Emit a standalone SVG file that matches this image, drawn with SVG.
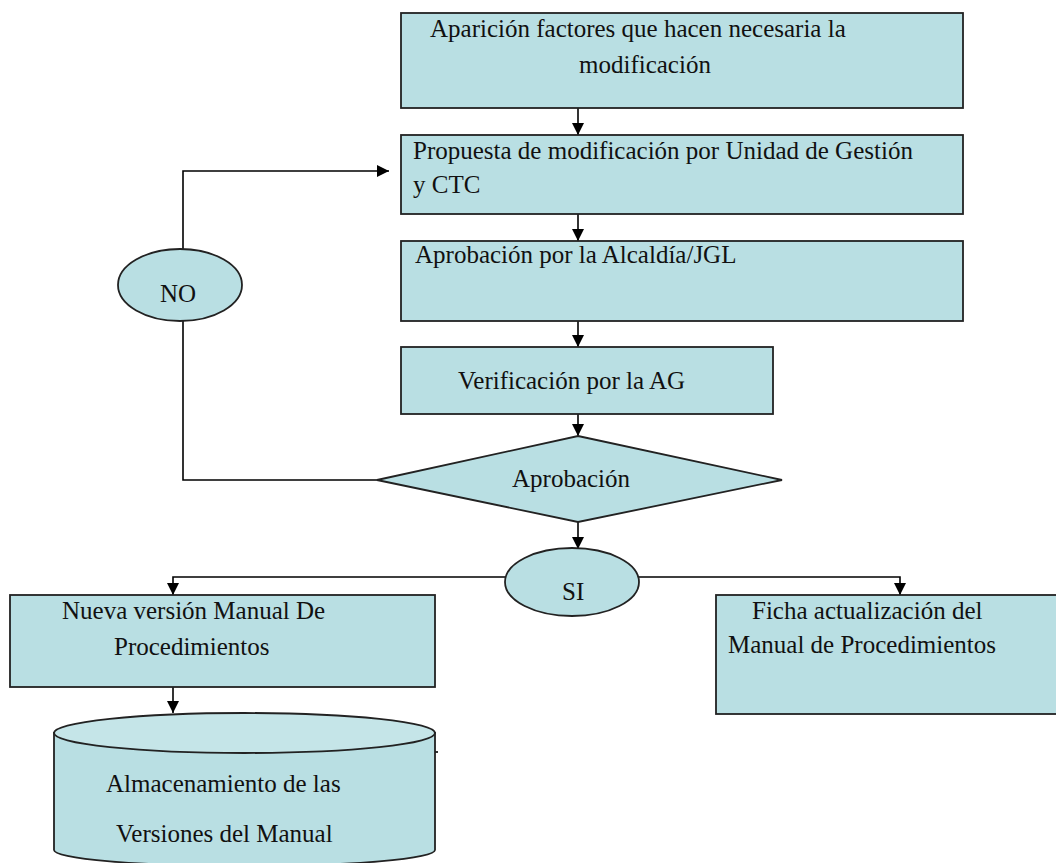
<svg xmlns="http://www.w3.org/2000/svg" width="1056" height="863" viewBox="0 0 1056 863">
  <defs>
    <marker id="arrow" viewBox="0 0 10 10" refX="10" refY="5" markerWidth="12" markerHeight="13" markerUnits="userSpaceOnUse" orient="auto">
      <path d="M0,0 L10,5 L0,10 Z" fill="#000"/>
    </marker>
    <style>
      .box { fill: #b9dfe3; stroke: #222; stroke-width: 1.8; }
      .lbl { font-family: "Liberation Serif", "Times New Roman", serif; font-size: 25px; fill: #111; }
      .wire { fill: none; stroke: #000; stroke-width: 1.6; }
    </style>
  </defs>
  <rect width="1056" height="863" fill="#fff"/>

  <!-- connectors -->
  <g id="connectors">
    <line class="wire" x1="578" y1="108" x2="578" y2="135" marker-end="url(#arrow)"/>
    <line class="wire" x1="578" y1="214" x2="578" y2="241" marker-end="url(#arrow)"/>
    <line class="wire" x1="578" y1="321" x2="578" y2="347" marker-end="url(#arrow)"/>
    <line class="wire" x1="578" y1="414" x2="578" y2="436" marker-end="url(#arrow)"/>
    <line class="wire" x1="578" y1="522" x2="578" y2="549" marker-end="url(#arrow)"/>
    <!-- rejection loop back to the proposal -->
    <polyline class="wire" points="378,480 183,480 183,321"/>
    <polyline class="wire" points="183,249 183,171 389,171" marker-end="url(#arrow)"/>
    <!-- approval branches -->
    <polyline class="wire" points="506,577 173,577 173,595" marker-end="url(#arrow)"/>
    <polyline class="wire" points="638,577 900,577 900,595" marker-end="url(#arrow)"/>
    <line class="wire" x1="173" y1="687" x2="173" y2="713" marker-end="url(#arrow)"/>
    <line class="wire" x1="435" y1="752" x2="438" y2="752" stroke-width="1"/>
  </g>

  <g id="n-aparicion">
    <rect class="box" x="401" y="13" width="562" height="95"/>
    <text class="lbl" x="430" y="37">Aparición factores que hacen necesaria la</text>
    <text class="lbl" x="579" y="73">modificación</text>
  </g>

  <g id="n-propuesta">
    <rect class="box" x="401" y="135" width="562" height="79"/>
    <text class="lbl" x="413" y="159">Propuesta de modificación por Unidad de Gestión</text>
    <text class="lbl" x="413" y="193">y CTC</text>
  </g>

  <g id="n-alcaldia">
    <rect class="box" x="401" y="241" width="562" height="80"/>
    <text class="lbl" x="415" y="263">Aprobación por la Alcaldía/JGL</text>
  </g>

  <g id="n-verificacion">
    <rect class="box" x="401" y="347" width="372" height="67"/>
    <text class="lbl" x="458" y="389">Verificación por la AG</text>
  </g>

  <g id="n-aprobacion">
    <polygon class="box" points="578,436 782,480 578,522 377,480"/>
    <text class="lbl" x="512" y="487">Aprobación</text>
  </g>

  <g id="n-no">
    <ellipse class="box" cx="180" cy="285" rx="62" ry="36"/>
    <text class="lbl" x="160" y="302">NO</text>
  </g>

  <g id="n-si">
    <ellipse class="box" cx="572" cy="582" rx="67" ry="34"/>
    <text class="lbl" x="562" y="600">SI</text>
  </g>

  <g id="n-nueva-version">
    <rect class="box" x="10" y="595" width="425" height="92"/>
    <text class="lbl" x="62" y="619">Nueva versión Manual De</text>
    <text class="lbl" x="114" y="655">Procedimientos</text>
  </g>

  <g id="n-ficha">
    <rect class="box" x="716" y="595" width="360" height="119"/>
    <text class="lbl" x="752" y="619">Ficha actualización del</text>
    <text class="lbl" x="728" y="653">Manual de Procedimientos</text>
  </g>

  <g id="n-almacenamiento">
    <path class="box" d="M54,733 L54,850 A190,16 0 0 0 435,850 L435,733 Z"/>
    <ellipse cx="244.5" cy="733" rx="190.5" ry="20" fill="#c5e5e8" stroke="#222" stroke-width="1.8"/>
    <text class="lbl" x="106" y="792">Almacenamiento de las</text>
    <text class="lbl" x="116" y="842">Versiones del Manual</text>
  </g>
</svg>
